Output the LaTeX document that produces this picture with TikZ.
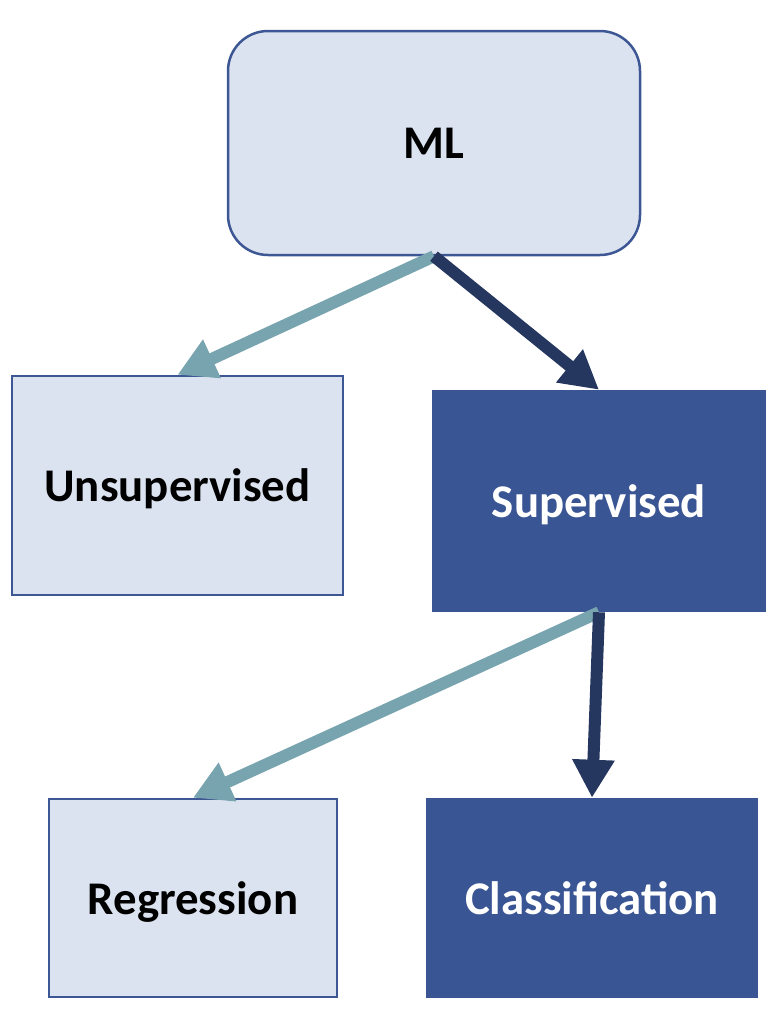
\documentclass[tikz,border=0pt]{standalone}
\usepackage{fontspec}
\setmainfont{Carlito}
\usetikzlibrary{arrows.meta}

\definecolor{lightbox}{HTML}{DCE3F0}
\definecolor{boxline}{HTML}{3C5794}
\definecolor{darkbox}{HTML}{3A5593}
\definecolor{navy}{HTML}{25365F}
\definecolor{teal}{HTML}{77A4AE}

\begin{document}
\begin{tikzpicture}[
            x = 1bp, y = -1bp,
            every node/.style={text depth=0pt, inner sep=0pt, font=\fontsize{47}{54}\selectfont\bfseries},
            light/.style={draw=boxline, fill=lightbox, line width=2.5bp},
            dark/.style={draw=darkbox, fill=darkbox, line width=2.5bp, text=white},
            line/.style={line width = 12bp, -{Triangle[length=38bp, width=40bp]}},
            ]
        \useasboundingbox (0, 0) rectangle (782, 1026);
        
        \node[light, rounded corners=40bp, minimum width=412bp, minimum height=224bp] (ml) at (434, 143) {ML};
        \node[light, minimum width=331bp, minimum height=219bp] (uns) at (177.5, 485.5) {Unsupervised};
        \node[dark, minimum width=332bp, minimum height=220bp] (sup) at (599, 501) {Supervised};
        \node[light, minimum width=288bp, minimum height=198bp] (reg) at (193, 898) {Regression};
        \node[dark, minimum width=330bp, minimum height=198bp] (cls) at (592, 898) {Classification};
        
        \draw[line, teal] (ml.south) -- (uns.north);
        \draw[line, navy] (ml.south) -- (sup.north);
        \draw[line, teal] (sup.south) -- (reg.north);
        \draw[line, navy] (sup.south) -- (cls.north);
    \end{tikzpicture}
\end{document}
